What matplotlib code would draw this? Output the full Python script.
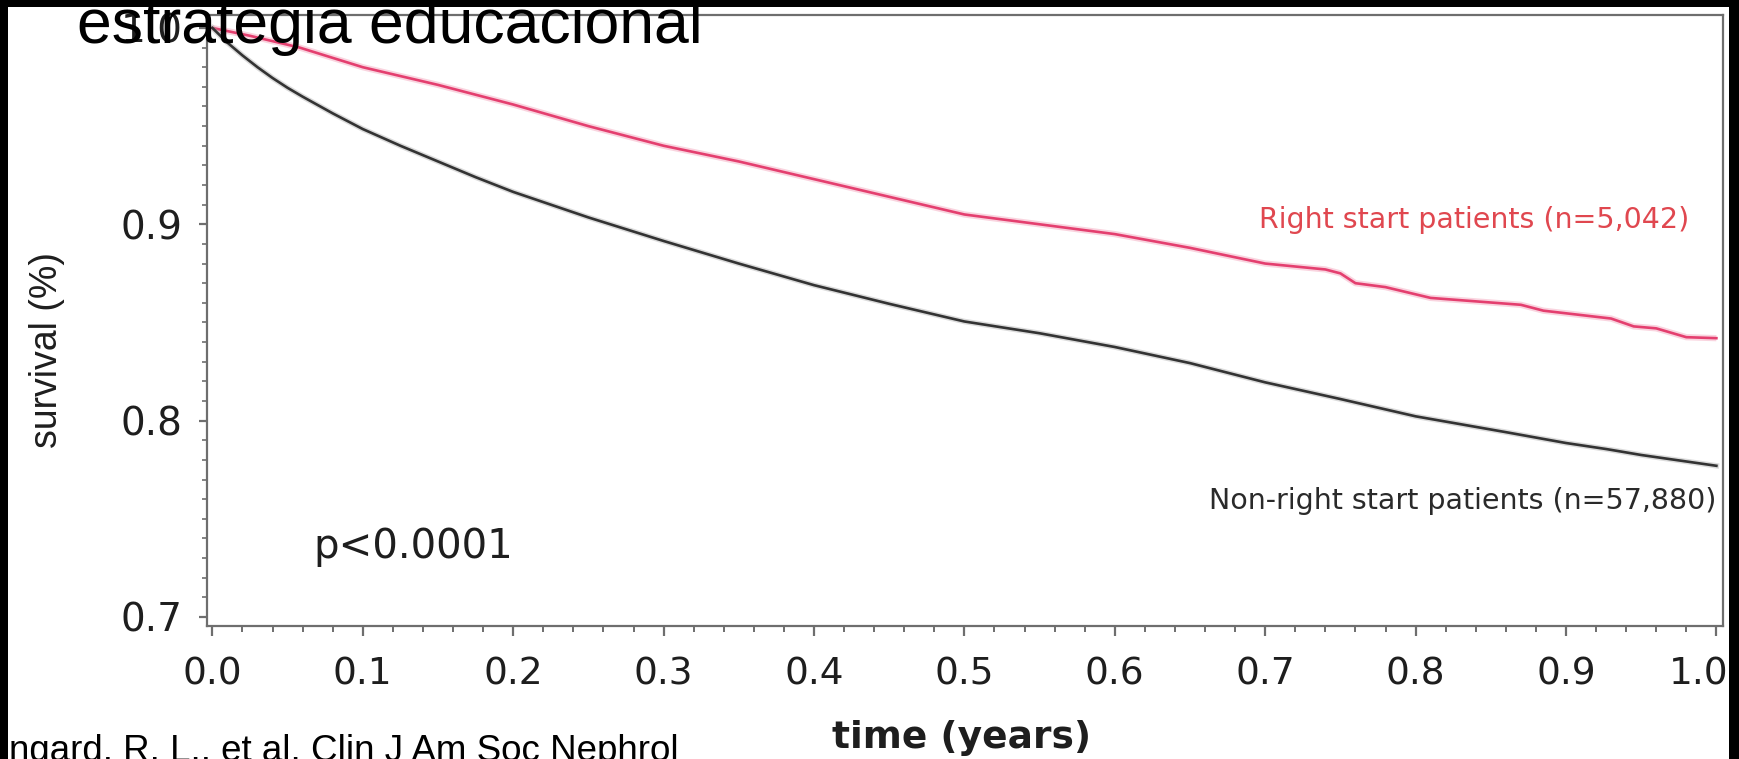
import matplotlib
matplotlib.use("Agg")
import matplotlib.pyplot as plt
from matplotlib.patches import Rectangle
from matplotlib.ticker import MultipleLocator, FixedLocator, FormatStrFormatter
from matplotlib import font_manager
import matplotlib.transforms as mtransforms

# ---------------- data ----------------
t_nonright = [0.0, 0.01, 0.02, 0.03, 0.04, 0.05, 0.06, 0.08, 0.10, 0.125, 0.15,
              0.175, 0.20, 0.25, 0.30, 0.35, 0.40, 0.45, 0.50, 0.55, 0.60, 0.65,
              0.70, 0.75, 0.80, 0.861, 0.90, 0.927, 0.95, 1.0]
s_nonright = [1.0, 0.9925, 0.986, 0.980, 0.9745, 0.9695, 0.965, 0.9565, 0.9485,
              0.940, 0.932, 0.924, 0.9165, 0.9035, 0.8915, 0.880, 0.869, 0.8595,
              0.8505, 0.8445, 0.8375, 0.8293, 0.8195, 0.811, 0.8022, 0.794,
              0.7886, 0.7855, 0.7825, 0.777]

t_right = [0.0, 0.025, 0.058, 0.10, 0.15, 0.20, 0.25, 0.30, 0.35, 0.40, 0.45,
           0.50, 0.55, 0.60, 0.65, 0.70, 0.74, 0.75, 0.76, 0.78, 0.81, 0.87,
           0.885, 0.93, 0.945, 0.96, 0.98, 1.0]
s_right = [1.0, 0.996, 0.990, 0.980, 0.971, 0.961, 0.950, 0.940, 0.932, 0.923,
           0.914, 0.905, 0.900, 0.895, 0.888, 0.880, 0.877, 0.875, 0.870, 0.868,
           0.8625, 0.859, 0.856, 0.852, 0.848, 0.847, 0.8425, 0.842]

x_ticks = [0.0, 0.1, 0.2, 0.3, 0.4, 0.5, 0.6, 0.7, 0.8, 0.9, 1.0]
y_ticks = [0.7, 0.8, 0.9, 1.0]

label_right = "Right start patients (n=5,042)"
label_nonright = "Non-right start patients (n=57,880)"
p_text = "p<0.0001"
title_text = "estrategia educacional"
cite_text = "ngard, R. L., et al. Clin J Am Soc Nephrol"
xlabel_text = "time (years)"
ylabel_text = "survival (%)"

# ---------------- fonts ----------------
installed = {f.name for f in font_manager.fontManager.ttflist}
narrow_ok = "Liberation Sans Narrow" in installed

W, H = 1740, 759
fig = plt.figure(figsize=(W / 100, H / 100), dpi=100, facecolor="black")

# white slide area inside black border
fig.add_artist(Rectangle((8 / W, 0), (1729 - 8) / W, (H - 7) / H,
                         transform=fig.transFigure, facecolor="white",
                         edgecolor="none", zorder=-10))

ax = fig.add_axes([207 / W, 1 - 626 / H, (1723 - 207) / W, (626 - 15) / H])
ax.set_facecolor("white")

red = "#e43f6f"
dark = "#333333"

ax.plot(t_right, s_right, color="#f3a0b8", lw=4.5, alpha=0.45, solid_capstyle="butt")
ax.plot(t_right, s_right, color=red, lw=1.9)
ax.plot(t_nonright, s_nonright, color="#9a9a9a", lw=4.0, alpha=0.35)
ax.plot(t_nonright, s_nonright, color=dark, lw=1.9)

ax.set_xlim(-0.0036, 1.0044)
ax.set_ylim(0.6954, 1.0066)

ax.xaxis.set_major_locator(FixedLocator(x_ticks))
ax.yaxis.set_major_locator(FixedLocator(y_ticks))
ax.xaxis.set_minor_locator(MultipleLocator(0.02))
ax.yaxis.set_minor_locator(MultipleLocator(0.01))
ax.xaxis.set_major_formatter(FormatStrFormatter("%.1f"))
ax.yaxis.set_major_formatter(FormatStrFormatter("%.1f"))

spine_col = "#6e6e6e"
for s in ax.spines.values():
    s.set_color(spine_col)
    s.set_linewidth(1.6)

ax.tick_params(axis="x", which="major", direction="out", length=7.2, width=1.6,
               color=spine_col, labelsize=27, labelcolor="#1e1e1e", pad=15)
ax.tick_params(axis="x", which="minor", direction="out", length=4.3, width=1.4,
               color=spine_col)
ax.tick_params(axis="y", which="major", direction="out", length=5.8, width=1.6,
               color=spine_col, labelsize=28, labelcolor="#1e1e1e", pad=12)
ax.tick_params(axis="y", which="minor", direction="out", length=3.6, width=1.2,
               color=spine_col)
for lab in ax.get_xticklabels() + ax.get_yticklabels():
    lab.set_family("DejaVu Sans")

# shift the last x label slightly left like the reference
xl = ax.get_xticklabels()
off = mtransforms.ScaledTranslation(-18 / 100, 0, fig.dpi_scale_trans)
xl[-1].set_transform(xl[-1].get_transform() + off)

# curve labels and p value
ax.text(0.9818, 0.9022, label_right, color="#e0474f", fontsize=20.5,
        family="DejaVu Sans", ha="right", va="center")
ax.text(0.9998, 0.759, label_nonright, color="#2a2a2a", fontsize=20.5,
        family="DejaVu Sans", ha="right", va="center")
ax.text(0.0671, 0.7356, p_text, color="#1e1e1e", fontsize=29,
        family="DejaVu Sans", ha="left", va="center")

# axis titles
fig.text((831 + 1092) / 2 / W, 1 - 738 / H, xlabel_text, fontsize=27,
         family="DejaVu Sans", weight="bold", color="#1e1e1e",
         ha="center", va="center")
fig.text(47 / W, 1 - 350 / H, ylabel_text, fontsize=27, rotation=90,
         family="Liberation Sans", color="#1e1e1e", ha="center", va="center")

# slide title and citation
fig.text(77 / W, 1 - 43 / H, title_text, fontsize=45, family="Liberation Sans",
         color="black", ha="left", va="baseline", zorder=5)
if narrow_ok:
    fig.text(9 / W, -2 / H, cite_text, fontsize=32, family="Liberation Sans Narrow",
             color="black", ha="left", va="baseline", zorder=5)
else:
    fig.text(9 / W, -2 / H, cite_text, fontsize=26.5, family="Liberation Sans",
             color="black", ha="left", va="baseline", zorder=5)

fig.savefig("out.png", dpi=100, facecolor="black")
